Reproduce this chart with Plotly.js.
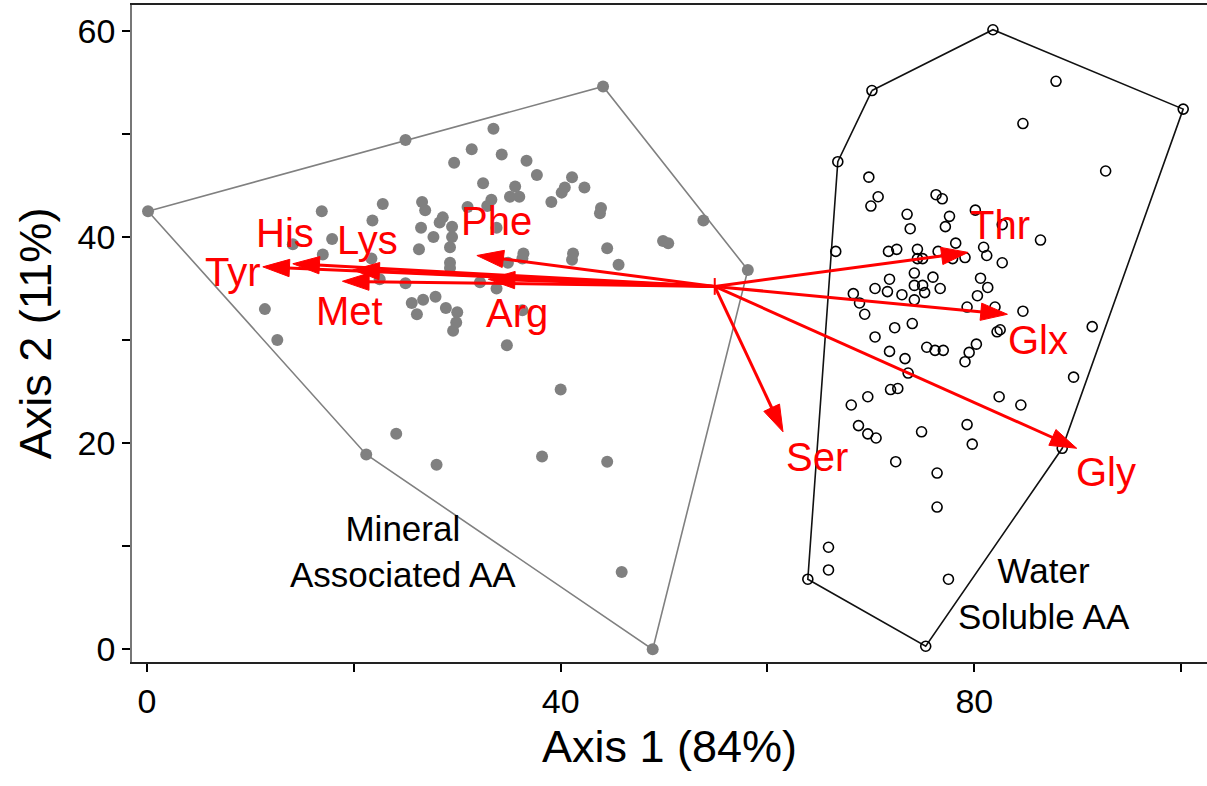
<!DOCTYPE html>
<html>
<head>
<meta charset="utf-8">
<script src="https://cdn.plot.ly/plotly-3.0.1.min.js"></script>
<style>
  html, body { margin: 0; padding: 0; background: #ffffff; }
  #chart { width: 1207px; height: 786px; }
</style>
</head>
<body>
<div id="chart"></div>
<script>
// Mineral-associated amino acid samples (ordination scores)
const mineralX = [0.1, 25.0, 44.1, 58.1, 48.9, 21.2, 33.5, 31.4, 29.7, 34.3, 36.7, 37.7, 41.1, 40.4, 40.1, 42.3,
  32.5, 35.6, 35.1, 36.0, 33.3, 32.9, 39.1, 43.9, 43.8, 26.6, 26.9, 31.0, 22.8, 16.9, 28.6, 28.3, 29.5, 26.5,
  21.8, 27.7, 29.5, 29.3, 26.3, 33.8, 53.8, 49.9, 50.4, 44.5, 41.2, 41.1, 36.4, 36.3, 17.9, 14.1, 17.0, 21.7,
  29.3, 29.3, 34.9, 45.6, 22.5, 25.0, 32.2, 33.8, 25.6, 26.7, 27.9, 28.9, 26.1, 30.0, 29.9, 29.6, 36.3, 34.8,
  11.4, 12.6, 40.0, 24.1, 28.0, 38.2, 44.5, 45.9];
const mineralY = [42.5, 49.4, 54.6, 36.8, 0.0, 18.9, 50.5, 48.5, 47.2, 48.0, 47.4, 46.0, 45.8, 44.8, 44.3, 44.8,
  45.2, 44.9, 43.9, 43.9, 43.6, 43.0, 43.4, 42.8, 42.3, 43.4, 42.6, 42.9, 43.2, 42.5, 41.9, 41.4, 41.0, 40.9,
  41.6, 40.0, 40.0, 39.0, 38.8, 40.9, 41.6, 39.6, 39.4, 38.9, 38.4, 37.8, 38.4, 37.9, 39.8, 39.3, 38.3, 37.9,
  37.5, 37.0, 37.5, 37.3, 35.9, 35.5, 35.6, 35.0, 33.6, 33.9, 34.2, 33.1, 32.5, 32.7, 31.7, 30.9, 32.9, 29.5,
  33.0, 30.0, 25.2, 20.9, 17.9, 18.7, 18.2, 7.5];

// Water-soluble amino acid samples
const waterX = [70.1, 81.8, 100.2, 88.5, 75.3, 63.9, 66.8, 87.9, 84.7, 92.7, 69.8, 70.7, 70.0, 73.5, 73.8, 76.3,
  76.9, 77.6, 77.2, 80.1, 82.7, 86.4, 66.6, 71.7, 72.5, 74.5, 76.5, 78.2, 80.9, 81.2, 79.1, 77.9, 82.7, 74.5,
  75.0, 74.2, 76.0, 71.8, 74.2, 75.0, 76.7, 70.4, 71.6, 73.0, 74.2, 75.2, 80.6, 81.3, 80.3, 68.3, 68.9, 69.4,
  79.3, 82.0, 84.7, 74.0, 72.3, 70.4, 82.2, 82.5, 91.4, 71.8, 73.3, 73.6, 75.4, 76.2, 77.0, 80.2, 79.5, 79.1,
  89.6, 71.9, 72.6, 69.7, 68.1, 82.4, 84.5, 68.8, 69.7, 70.5, 74.9, 79.3, 79.8, 72.4, 76.4, 76.4, 65.9, 65.9,
  77.5];
const waterY = [54.2, 60.1, 52.4, 19.5, 0.3, 6.8, 47.3, 55.1, 51.0, 46.4, 45.8, 43.9, 43.0, 42.2, 40.8, 44.1,
  43.7, 42.0, 41.0, 42.6, 41.2, 39.7, 38.6, 38.6, 38.8, 38.8, 38.6, 39.4, 39.0, 38.2, 38.0, 37.9, 37.5, 37.9,
  37.9, 36.5, 36.1, 35.9, 35.3, 35.3, 35.0, 35.0, 34.7, 34.4, 33.9, 34.6, 36.0, 35.1, 34.3, 34.5, 33.6, 32.5,
  33.2, 33.2, 32.8, 31.6, 31.2, 30.3, 30.8, 31.0, 31.3, 28.9, 28.2, 26.8, 29.3, 29.0, 29.0, 29.6, 28.8, 27.9,
  26.4, 25.2, 25.3, 24.5, 23.7, 24.5, 23.7, 21.7, 20.9, 20.5, 21.1, 21.8, 19.9, 18.2, 17.1, 13.8, 9.9, 7.7,
  6.8];

// Convex hull outlines of the two groups
const mineralHullX = [0.1, 44.1, 58.1, 48.9, 21.2, 0.1];
const mineralHullY = [42.5, 54.6, 36.8, 0.0, 18.9, 42.5];
const waterHullX = [70.1, 81.8, 100.2, 88.5, 75.3, 63.9, 66.8, 70.1];
const waterHullY = [54.2, 60.1, 52.4, 19.5, 0.3, 6.8, 47.3, 54.2];

// Amino acid vectors (biplot arrows from the common origin)
const vectorOrigin = [54.9, 35.2];
const aminoAcids = ['Tyr', 'His', 'Lys', 'Met', 'Phe', 'Arg', 'Thr', 'Glx', 'Gly', 'Ser'];
const vectorTipX = [11.2, 14.1, 19.9, 18.9, 31.9, 33.0, 79.4, 83.2, 89.9, 61.5];
const vectorTipY = [37.1, 37.4, 36.8, 35.7, 38.2, 35.9, 38.5, 32.5, 19.5, 21.1];
// Where each vector name is written
const labelX = [8.3, 13.3, 21.3, 19.6, 33.8, 35.8, 82.5, 86.2, 92.7, 64.8];
const labelY = [36.6, 40.4, 39.7, 32.8, 41.5, 32.6, 41.2, 30.0, 17.2, 18.7];

// Group names
const groupNames = ['Mineral<br>Associated AA', 'Water<br>Soluble AA'];
const groupLabelX = [24.8, 86.7];
const groupLabelY = [9.5, 5.4];

const FONT = '"Liberation Sans", Arial, Helvetica, sans-serif';
const RED = '#ff0000';

const traces = [];

traces.push({
  x: mineralHullX, y: mineralHullY, mode: 'lines', type: 'scatter',
  line: { color: '#808080', width: 1.6 }, hoverinfo: 'skip', showlegend: false
});
traces.push({
  x: waterHullX, y: waterHullY, mode: 'lines', type: 'scatter',
  line: { color: '#111111', width: 1.6 }, hoverinfo: 'skip', showlegend: false
});
traces.push({
  x: mineralX, y: mineralY, mode: 'markers', type: 'scatter', name: 'Mineral Associated AA',
  marker: { symbol: 'circle', size: 12, color: '#808080', line: { width: 0 } },
  showlegend: false, cliponaxis: false
});
traces.push({
  x: waterX, y: waterY, mode: 'markers', type: 'scatter', name: 'Water Soluble AA',
  marker: { symbol: 'circle-open', size: 10, color: '#000000', line: { width: 1.6, color: '#000000' } },
  showlegend: false, cliponaxis: false
});

// One arrow per amino acid, drawn from the origin to its tip
aminoAcids.forEach((name, i) => {
  traces.push({
    x: [vectorOrigin[0], vectorTipX[i]],
    y: [vectorOrigin[1], vectorTipY[i]],
    mode: 'lines+markers', type: 'scatter', name: name,
    line: { color: RED, width: 3 },
    marker: {
      symbol: ['circle', 'arrow'], size: [0, 28], color: RED, opacity: 1,
      angleref: 'previous', line: { width: 1, color: RED }
    },
    hoverinfo: 'skip', showlegend: false, cliponaxis: false
  });
});

// small tick at the origin of the vectors
traces.push({
  x: [vectorOrigin[0]], y: [vectorOrigin[1]], mode: 'markers', type: 'scatter',
  marker: { symbol: 'line-ns-open', size: 12, color: RED, line: { color: RED, width: 2 } },
  hoverinfo: 'skip', showlegend: false
});

const annotations = [];
aminoAcids.forEach((name, i) => {
  annotations.push({
    x: labelX[i], y: labelY[i], xref: 'x', yref: 'y', text: name, showarrow: false,
    font: { family: FONT, size: 40, color: RED }, xanchor: 'center', yanchor: 'middle'
  });
});
groupNames.forEach((name, i) => {
  annotations.push({
    x: groupLabelX[i], y: groupLabelY[i], xref: 'x', yref: 'y', text: name, showarrow: false,
    font: { family: FONT, size: 35, color: '#000000' }, xanchor: 'center', yanchor: 'middle', align: 'center'
  });
});

const layout = {
  width: 1207, height: 786,
  margin: { l: 132, r: 0, t: 5, b: 124 },
  paper_bgcolor: '#ffffff', plot_bgcolor: '#ffffff',
  font: { family: FONT, color: '#000000' },
  showlegend: false,
  xaxis: {
    range: [-1.45, 102.5], showgrid: false, zeroline: false,
    showline: true, linecolor: '#222222', linewidth: 1.6, mirror: true,
    ticks: 'outside', ticklen: 8, tickwidth: 2, tickcolor: '#000000',
    tickvals: [0, 20, 40, 60, 80, 100], ticktext: ['0', '', '40', '', '80', ''],
    tickfont: { family: FONT, size: 34, color: '#000000' },
    title: { text: 'Axis 1 (84%)', font: { family: FONT, size: 45, color: '#000000' }, standoff: 12 }
  },
  yaxis: {
    range: [-1.23, 62.5], showgrid: false, zeroline: false,
    showline: true, linecolor: '#777777', linewidth: 1.6, mirror: false,
    ticks: 'outside', ticklen: 8, tickwidth: 2, tickcolor: '#000000',
    tickvals: [0, 10, 20, 30, 40, 50, 60], ticktext: ['0', '', '20', '', '40', '', '60'],
    tickfont: { family: FONT, size: 34, color: '#000000' },
    title: { text: 'Axis 2 (11%)', font: { family: FONT, size: 45, color: '#000000' }, standoff: 12 }
  },
  annotations: annotations
};

Plotly.newPlot('chart', traces, layout, { displayModeBar: false, responsive: false });
</script>
</body>
</html>
